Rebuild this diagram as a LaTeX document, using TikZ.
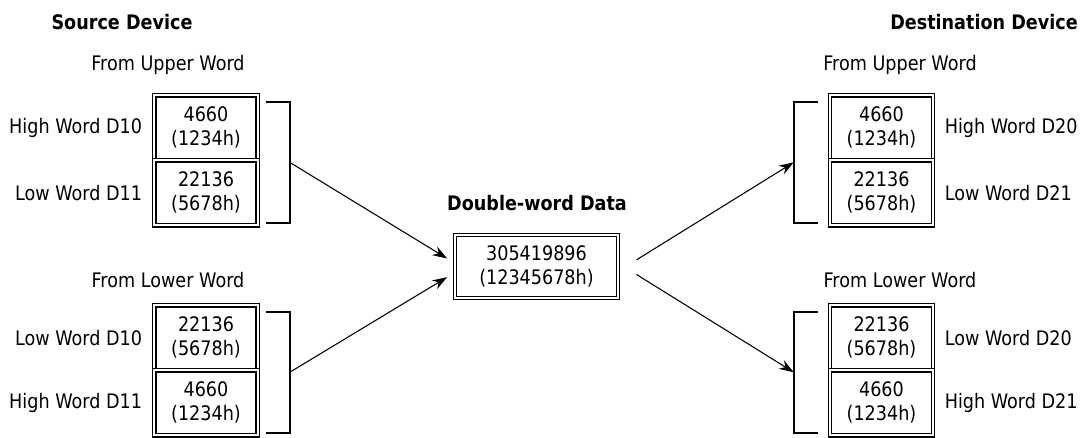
\documentclass[tikz,border=0pt]{standalone}
\usepackage{fontspec}
\setmainfont{DejaVu Sans}[FakeStretch=0.88]
\usepackage{tikz}
\usetikzlibrary{arrows.meta, positioning}

\begin{document}
\begin{tikzpicture}[
  x=0.75pt, y=-0.75pt,
  cell/.style={rectangle, draw, line width=0.9pt, double, double distance=1.6pt,
               minimum width=77.5pt, minimum height=48.75pt,
               outer sep=0pt, inner sep=0pt,
               align=center, font=\fontsize{15}{18}\selectfont},
  dwcell/.style={cell, minimum width=122pt, minimum height=47pt},
  wordtxt/.style={inner sep=0pt, font=\fontsize{15}{18}\selectfont},
  hdr/.style={inner sep=0pt, font=\fontsize{15}{18}\selectfont\bfseries},
  brk/.style={line width=1.5pt},
  arr/.style={-{Stealth[length=11pt, width=7.5pt]}, line width=0.8pt},
]
  \useasboundingbox (0,0) rectangle (1083,437);

  \node[hdr] (srcTitle) at (122,22) {Source Device};
  \node[hdr, anchor=east] (dstTitle) at (1078,22) {Destination Device};

  % source, upper word first
  \node[wordtxt] (srcUfrom) at (168,65) {From Upper Word};
  \node[cell] (srcUhi) at (206,127.8) {4660\\(1234h)};
  \node[cell, below=0pt of srcUhi] (srcUlo) {22136\\(5678h)};
  \node[wordtxt, left=9pt of srcUhi] (srcUhiL) {High Word D10};
  \node[wordtxt, left=9pt of srcUlo] (srcUloL) {Low Word D11};
  \draw[brk] ([xshift=6pt,yshift=-5pt]srcUhi.north east) -- ++(18pt,0)
    |- coordinate[pos=0.25] (srcUm) ([xshift=6pt,yshift=2pt]srcUlo.south east);

  % source, lower word first
  \node[wordtxt] (srcLfrom) at (168,280) {From Lower Word};
  \node[cell] (srcLlo) at (206,337.8) {22136\\(5678h)};
  \node[cell, below=0pt of srcLlo] (srcLhi) {4660\\(1234h)};
  \node[wordtxt, left=9pt of srcLlo] (srcLloL) {Low Word D10};
  \node[wordtxt, left=9pt of srcLhi] (srcLhiL) {High Word D11};
  \draw[brk] ([xshift=6pt,yshift=-5pt]srcLlo.north east) -- ++(18pt,0)
    |- coordinate[pos=0.25] (srcLm) ([xshift=6pt,yshift=2pt]srcLhi.south east);

  \node[hdr] (dwTitle) at (537,203) {Double-word Data};
  \node[dwcell] (dw) at (536.5,266.5) {305419896\\(12345678h)};

  % destination, upper word first
  \node[wordtxt] (dstUfrom) at (900,65) {From Upper Word};
  \node[cell] (dstUhi) at (881.5,127.8) {4660\\(1234h)};
  \node[cell, below=0pt of dstUhi] (dstUlo) {22136\\(5678h)};
  \node[wordtxt, right=8.5pt of dstUhi] (dstUhiL) {High Word D20};
  \node[wordtxt, right=8.5pt of dstUlo] (dstUloL) {Low Word D21};
  \draw[brk] ([xshift=-9pt,yshift=-5pt]dstUhi.north west) -- ++(-18pt,0)
    |- coordinate[pos=0.25] (dstUm) ([xshift=-9pt,yshift=2pt]dstUlo.south west);

  % destination, lower word first
  \node[wordtxt] (dstLfrom) at (900,280) {From Lower Word};
  \node[cell] (dstLlo) at (881.5,337.8) {22136\\(5678h)};
  \node[cell, below=0pt of dstLlo] (dstLhi) {4660\\(1234h)};
  \node[wordtxt, right=8.5pt of dstLlo] (dstLloL) {Low Word D20};
  \node[wordtxt, right=8.5pt of dstLhi] (dstLhiL) {High Word D21};
  \draw[brk] ([xshift=-9pt,yshift=-5pt]dstLlo.north west) -- ++(-18pt,0)
    |- coordinate[pos=0.25] (dstLm) ([xshift=-9pt,yshift=2pt]dstLhi.south west);

  \draw[arr] (srcUm) -- ([xshift=-6pt,yshift=6pt]dw.west);
  \draw[arr] (srcLm) -- ([xshift=-6pt,yshift=-8pt]dw.west);
  \draw[arr] ([xshift=14pt,yshift=5pt]dw.east) -- (dstUm);
  \draw[arr] ([xshift=14pt,yshift=-6pt]dw.east) -- (dstLm);
\end{tikzpicture}
\end{document}
